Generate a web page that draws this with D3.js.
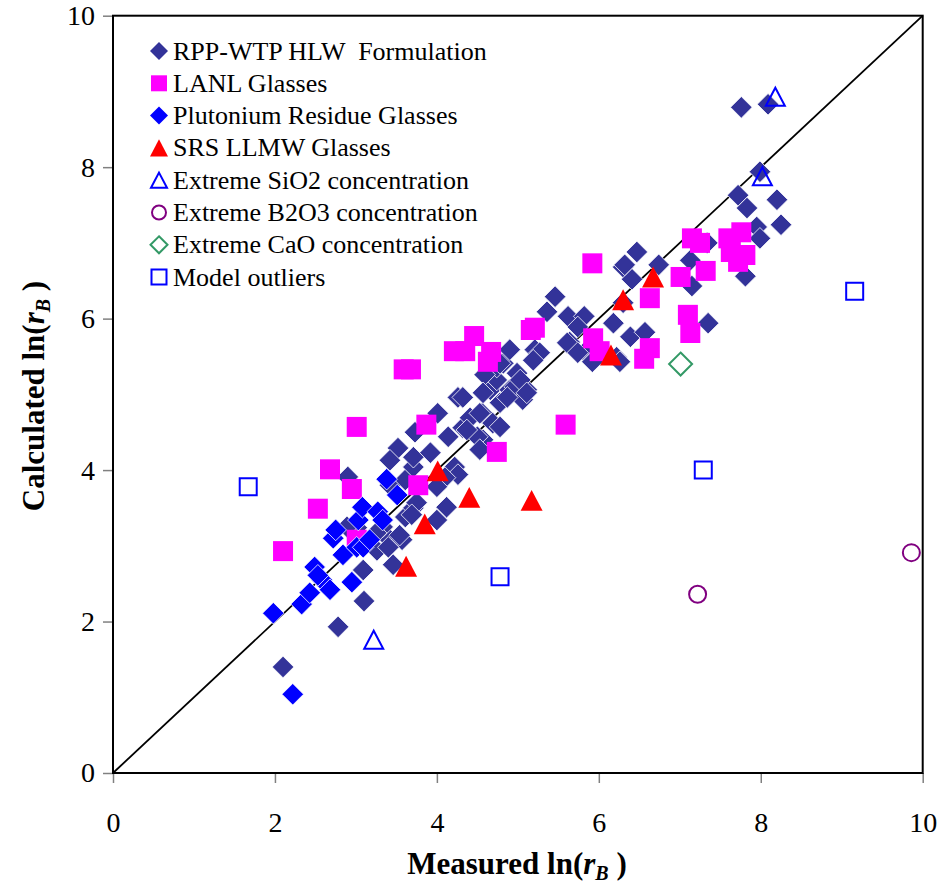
<!DOCTYPE html>
<html>
<head>
<meta charset="utf-8">
<script src="https://cdn.jsdelivr.net/npm/d3@7"></script>
<style>
  html, body { margin: 0; padding: 0; background: #fff; }
  svg text { font-family: "Liberation Serif", "Times New Roman", serif; fill: #000; }
</style>
</head>
<body>
<svg id="chart" width="939" height="886"></svg>
<script>
// ---------- DATA ----------
const tickValues = [0, 2, 4, 6, 8, 10];

const seriesNames = [
  "RPP-WTP HLW  Formulation",
  "LANL Glasses",
  "Plutonium Residue Glasses",
  "SRS LLMW Glasses",
  "Extreme SiO2 concentration",
  "Extreme B2O3 concentration",
  "Extreme CaO concentration",
  "Model outliers"
];

// [measured, calculated]
const rppWtp = [
  [2.10,1.40],[2.78,1.93],[3.10,2.27],[3.09,2.68],[3.46,2.75],[3.42,3.08],[3.57,3.08],
  [3.61,3.38],[3.71,3.50],[4.00,3.34],[3.01,3.24],[3.26,2.94],[3.33,3.25],[3.25,3.17],
  [3.40,2.98],[3.54,3.14],[2.89,3.25],[2.90,3.91],[3.75,3.57],[3.69,3.41],[4.12,3.51],
  [3.42,3.80],[3.61,3.87],[3.71,4.04],[3.52,4.29],[3.71,4.17],[3.92,4.23],[3.73,4.50],
  [4.01,4.75],[4.14,4.44],[4.26,4.96],[4.32,4.56],[4.57,4.40],[4.22,4.04],[4.26,3.94],
  [4.10,3.90],[4.00,3.78],[3.42,4.13],[4.41,4.69],[4.50,4.44],[4.53,4.27],[4.56,4.75],
  [4.66,5.06],[4.74,5.19],[4.90,5.06],[4.78,4.89],[4.99,5.28],[5.11,5.06],[4.74,5.36],
  [4.82,5.41],[4.59,5.26],[4.96,5.10],[5.06,4.93],[5.21,5.59],[4.90,5.59],[4.78,5.41],
  [5.03,5.19],[5.11,5.02],[4.87,4.96],[4.57,5.02],[4.53,4.75],[4.69,4.62],[4.37,4.53],
  [4.32,4.96],[4.78,4.57],
  [5.46,6.29],[5.36,6.09],[5.62,6.03],[5.82,6.03],[5.74,5.89],[5.64,5.69],[5.83,5.56],
  [5.93,5.45],[6.22,5.49],[6.18,5.94],[6.39,5.76],[6.57,5.82],[6.30,6.21],[5.27,5.55],
  [5.19,5.45],[6.26,5.43],[5.92,5.43],[6.30,6.68],[6.41,6.52],[6.47,6.88],[6.32,6.71],
  [6.74,6.71],[7.13,6.77],[7.15,6.43],[7.35,5.94],[7.34,7.00],[5.61,5.68],[5.74,5.55],
  [7.76,8.79],[8.09,8.83],[7.99,7.94],[7.72,7.63],[7.83,7.46],[8.20,7.57],[7.95,7.21],
  [8.25,7.24],[7.99,7.06],[7.81,6.56]
];

const lanlGlasses = [
  [2.10,2.93],[2.53,3.49],[2.68,4.01],[2.95,3.75],[3.01,4.57],[3.01,3.08],[3.59,5.33],
  [3.68,5.33],[3.77,3.80],[3.87,4.60],[4.21,5.57],[4.35,5.57],[4.46,5.77],[4.67,5.56],
  [4.63,5.43],[4.74,4.24],[5.16,5.85],[5.21,5.88],[5.59,4.60],[5.92,6.73],[5.93,5.74],
  [6.01,5.57],[6.63,6.27],[6.63,5.61],[6.56,5.47],[7.01,6.55],[7.10,6.05],[7.13,5.81],
  [7.15,7.06],[7.25,7.00],[7.32,6.63],[7.60,7.06],[7.76,7.14],[7.63,6.88],[7.81,6.84],
  [7.72,6.75]
];

const plutoniumResidue = [
  [1.98,2.11],[2.22,1.04],[2.33,2.23],[2.43,2.38],[2.49,2.72],[2.58,2.55],[2.68,2.42],
  [2.95,2.52],[2.72,3.10],[2.84,2.88],[3.01,2.98],[3.09,2.98],[3.17,3.08],[3.03,3.34],
  [3.08,3.51],[3.27,3.45],[3.33,3.34],[3.38,3.88],[3.51,3.67],[2.75,3.21],[2.53,2.61]
];

const srsLlmw = [
  [3.62,2.73],[3.85,3.29],[4.01,3.99],[4.40,3.64],[5.17,3.60],[6.15,5.52],[6.30,6.25],
  [6.67,6.55]
];

const extremeSiO2 = [[3.22,1.76],[8.18,8.93],[8.02,7.88]];
const extremeB2O3 = [[7.22,2.36],[9.86,2.91]];
const extremeCaO = [[7.01,5.40]];
const modelOutliers = [[1.67,3.78],[4.78,2.59],[7.29,4.00],[9.16,6.36]];

// ---------- LAYOUT ----------
const svg = d3.select("#chart");
const x = d3.scaleLinear().domain([0, 10]).range([113, 922.7]);
const y = d3.scaleLinear().domain([0, 10]).range([773, 15.7]);

// marker path builders
function markerPath(type, s) {
  const p = d3.path();
  if (type === "diamond") {
    p.moveTo(0, -s); p.lineTo(s, 0); p.lineTo(0, s); p.lineTo(-s, 0); p.closePath();
  } else if (type === "square") {
    p.rect(-s, -s, 2 * s, 2 * s);
  } else if (type === "triangle") {
    const h = s * 1.9;
    p.moveTo(0, -h / 2); p.lineTo(s, h / 2); p.lineTo(-s, h / 2); p.closePath();
  } else if (type === "circle") {
    p.arc(0, 0, s, 0, 2 * Math.PI);
  }
  return p.toString();
}

const series = [
  { name: seriesNames[0], data: rppWtp, type: "diamond", size: 10.8, fill: "#333399", stroke: "#fff", sw: 0.8, lsize: 9 },
  { name: seriesNames[1], data: lanlGlasses, type: "square", size: 10, fill: "#FF00FF", stroke: "none", sw: 0, lsize: 8 },
  { name: seriesNames[2], data: plutoniumResidue, type: "diamond", size: 10.8, fill: "#0000FF", stroke: "#fff", sw: 0.8, lsize: 9 },
  { name: seriesNames[3], data: srsLlmw, type: "triangle", size: 11, fill: "#FF0000", stroke: "none", sw: 0, lsize: 9 },
  { name: seriesNames[4], data: extremeSiO2, type: "triangle", size: 9.5, fill: "none", stroke: "#0000FF", sw: 2, lsize: 8 },
  { name: seriesNames[5], data: extremeB2O3, type: "circle", size: 8.5, fill: "none", stroke: "#800080", sw: 2, lsize: 7 },
  { name: seriesNames[6], data: extremeCaO, type: "diamond", size: 11.5, fill: "none", stroke: "#339966", sw: 2, lsize: 8.5 },
  { name: seriesNames[7], data: modelOutliers, type: "square", size: 8.5, fill: "none", stroke: "#0000FF", sw: 2, lsize: 7.5 }
];

// ---------- AXES ----------
const xAxis = d3.axisBottom(x).tickValues(tickValues).tickSize(10).tickPadding(29).tickFormat(d3.format("d"));
const yAxis = d3.axisLeft(y).tickValues(tickValues).tickSize(10).tickPadding(8).tickFormat(d3.format("d"));

const gx = svg.append("g").attr("transform", "translate(0,773)").call(xAxis);
const gy = svg.append("g").attr("transform", "translate(113,0)").call(yAxis);
[gx, gy].forEach(g => {
  g.select(".domain").remove();
  g.selectAll(".tick line").attr("stroke", "#808080").attr("stroke-width", 1.5);
  g.selectAll(".tick text").attr("font-size", 28).attr("fill", "#000")
    .style("font-family", "'Liberation Serif', serif");
});
gx.selectAll(".tick text").attr("dy", "0.71em");

// diagonal line y = x
svg.append("line")
  .attr("x1", x(0)).attr("y1", y(0)).attr("x2", x(10)).attr("y2", y(10))
  .attr("stroke", "#000").attr("stroke-width", 1.8);

// ---------- POINTS ----------
series.forEach(s => {
  svg.append("g").selectAll("path").data(s.data).join("path")
    .attr("d", markerPath(s.type, s.size))
    .attr("transform", d => `translate(${x(d[0])},${y(d[1])})`)
    .attr("fill", s.fill)
    .attr("stroke", s.stroke)
    .attr("stroke-width", s.sw);
});

// frame
svg.append("rect")
  .attr("x", x(0)).attr("y", y(10))
  .attr("width", x(10) - x(0)).attr("height", y(0) - y(10))
  .attr("fill", "none").attr("stroke", "#000").attr("stroke-width", 2);

// ---------- LEGEND ----------
const legend = svg.append("g");
series.forEach((s, i) => {
  const cy = 51 + i * 32.3;
  legend.append("path")
    .attr("d", markerPath(s.type, s.lsize))
    .attr("transform", `translate(159,${cy})`)
    .attr("fill", s.fill)
    .attr("stroke", s.stroke === "#fff" ? "none" : s.stroke)
    .attr("stroke-width", s.sw);
  legend.append("text")
    .attr("x", 173).attr("y", cy + 8.5)
    .attr("font-size", 26)
    .style("white-space", "pre")
    .text(s.name);
});

// ---------- AXIS TITLES ----------
function axisTitle(g, main) {
  const t = g.append("text")
    .attr("text-anchor", "middle")
    .attr("font-size", 31)
    .attr("font-weight", "bold");
  t.append("tspan").text(main + " ln(");
  t.append("tspan").attr("font-style", "italic").text("r");
  t.append("tspan").attr("font-style", "italic").attr("font-size", 20).attr("dy", 6).text("B");
  t.append("tspan").attr("dy", -6).text(" )");
  return t;
}
svg.append("g").attr("transform", "translate(517,874)").call(g => axisTitle(g, "Measured"));
svg.append("g").attr("transform", "translate(44,396) rotate(-90)").call(g => axisTitle(g, "Calculated"));
</script>
</body>
</html>
